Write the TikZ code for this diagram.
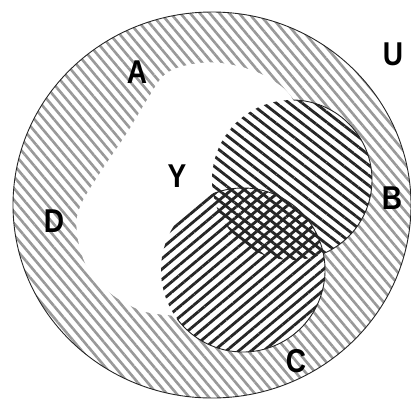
\documentclass[tikz,border=0pt]{standalone}
\usepackage{fontspec}
\usepackage{graphicx}
\setmainfont{Liberation Sans}
\usetikzlibrary{patterns.meta}
\newcommand\setlab[1]{\scalebox{0.85}[1]{#1}}
\begin{document}
\begin{tikzpicture}[x=1pt,y=1pt,
  lbl/.style={font=\fontsize{33}{33}\selectfont\bfseries, inner sep=0pt, text=black},
  dhatch/.style={pattern={Lines[angle=-50,distance=7.5pt,line width=2.6pt]}, pattern color=black!40},
  bhatch/.style={pattern={Lines[angle=-38,distance=8pt,line width=2.8pt]}, pattern color=black!85},
  chatch/.style={pattern={Lines[angle=40,distance=8pt,line width=2.8pt]}, pattern color=black!85},
  outline/.style={draw=black!85, line width=0.9pt}
]
\useasboundingbox (0,0) rectangle (411,-405);
\fill[white] (0,0) rectangle (411,-405);
\coordinate (cD) at (212,-205);
\coordinate (cB) at (292,-180);
\coordinate (cC) at (243,-270);
% set D (universe disk) hatched
\path[dhatch] (cD) ellipse [x radius=199pt, y radius=193pt];
% region A (white) and the discs of B and C
\fill[white] plot[smooth cycle, tension=0.6] coordinates {
  (200,-63) (233,-65) (267,-77) (293,-100) (298,-140) (305,-190) (300,-240)
  (270,-290) (220,-318) (167,-315) (140,-310) (110,-293) (87,-267) (77,-233)
  (80,-207) (100,-173) (127,-133) (147,-100) (167,-73)};
\fill[white] (cB) circle [radius=80pt];
\fill[white] (cC) circle [radius=82pt];
% hatches of B and C
\path[bhatch] (cB) circle [radius=80pt];
\path[chatch] (cC) circle [radius=82pt];
% visible arcs of B and C
\draw[outline] (cB) ++(89:80pt) arc [start angle=89, end angle=-67, radius=80pt];
\draw[outline] (cC) ++(111.5:82pt) arc [start angle=111.5, end angle=-143.3, radius=82pt];
% outline of D
\draw[outline] (cD) ellipse [x radius=199pt, y radius=193pt];
% labels
\node[lbl] (lA) at (137,-72) {\setlab{A}};
\node[lbl] (lU) at (393,-54) {\setlab{U}};
\node[lbl] (lB) at (392,-198) {\setlab{B}};
\node[lbl] (lC) at (296,-361) {\setlab{C}};
\node[lbl] (lD) at (54,-221) {\setlab{D}};
\node[lbl] (lY) at (177,-176) {\setlab{Y}};
\end{tikzpicture}
\end{document}
